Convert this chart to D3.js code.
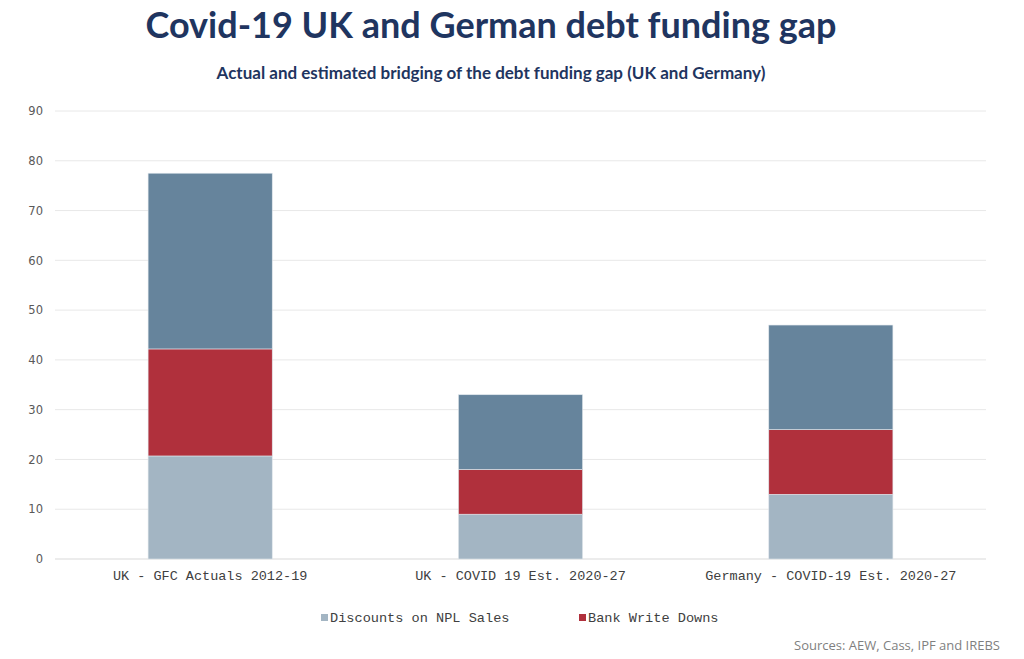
<!DOCTYPE html>
<html>
<head>
<meta charset="utf-8">
<script src="https://cdn.jsdelivr.net/npm/d3@7"></script>
<style>
  body { margin: 0; background: #fff; }
</style>
</head>
<body>
<div id="chart"></div>
<script>
// categories and stacked values
var categories = ["UK - GFC Actuals 2012-19", "UK - COVID 19 Est. 2020-27", "Germany - COVID-19 Est. 2020-27"];
var discounts = [20.7, 9, 13];
var writeDowns = [21.5, 9, 13];
var remainder = [35.3, 15, 21];
var yTicks = [0, 10, 20, 30, 40, 50, 60, 70, 80, 90];

var seriesNames = ["Discounts on NPL Sales", "Bank Write Downs", "Remaining Gap"];
var seriesColors = ["#a3b5c3", "#b0303c", "#66849c"];
var legendNames = ["Discounts on NPL Sales", "Bank Write Downs"];

var svgWidth = 1024;
var svgHeight = 659;
var margin = { top: 111, right: 38, bottom: 100, left: 55 };
var width = svgWidth - margin.left - margin.right;
var height = svgHeight - margin.top - margin.bottom;

var svg = d3.select("#chart").append("svg")
  .attr("width", svgWidth)
  .attr("height", svgHeight);

// titles
svg.append("text")
  .attr("x", 491).attr("y", 38)
  .attr("text-anchor", "middle")
  .attr("font-family", "Lato, 'Open Sans', sans-serif")
  .attr("font-weight", "bold")
  .attr("font-size", "36px")
  .attr("fill", "#1f3560")
  .text("Covid-19 UK and German debt funding gap");

svg.append("text")
  .attr("x", 491).attr("y", 79)
  .attr("text-anchor", "middle")
  .attr("font-family", "Lato, 'Open Sans', sans-serif")
  .attr("font-weight", "bold")
  .attr("font-size", "17px")
  .attr("fill", "#1f3560")
  .text("Actual and estimated bridging of the debt funding gap (UK and Germany)");

var chartGroup = svg.append("g")
  .attr("transform", `translate(${margin.left}, ${margin.top})`);

// build table for stacking
var table = categories.map(function(c, i) {
  return { cat: c, s0: discounts[i], s1: writeDowns[i], s2: remainder[i] };
});
var stacked = d3.stack().keys(["s0", "s1", "s2"])(table);

var xScale = d3.scaleBand()
  .domain(categories)
  .range([0, width])
  .paddingInner(0.6)
  .paddingOuter(0.3);

var yScale = d3.scaleLinear()
  .domain([0, 90])
  .range([height, 0]);

// gridlines
chartGroup.append("g")
  .selectAll("line")
  .data(yTicks)
  .enter()
  .append("line")
  .attr("x1", 0)
  .attr("x2", width)
  .attr("y1", d => yScale(d))
  .attr("y2", d => yScale(d))
  .attr("stroke", d => d === 0 ? "#d9d9d9" : "#e8e8e8")
  .attr("stroke-width", 1);

// y axis labels
var leftAxis = d3.axisLeft(yScale).tickValues(yTicks).tickSize(0).tickPadding(12);
var yAxis = chartGroup.append("g").call(leftAxis);
yAxis.select(".domain").remove();
yAxis.selectAll("text")
  .attr("font-family", "'DejaVu Sans', Verdana, sans-serif")
  .attr("font-size", "11.5px")
  .attr("fill", "#595959");

// bars
chartGroup.selectAll(".series")
  .data(stacked)
  .enter()
  .append("g")
  .attr("fill", (d, i) => seriesColors[i])
  .selectAll("rect")
  .data(d => d)
  .enter()
  .append("rect")
  .attr("x", d => xScale(d.data.cat))
  .attr("y", d => yScale(d[1]))
  .attr("width", xScale.bandwidth())
  .attr("height", d => yScale(d[0]) - yScale(d[1]))
  .attr("stroke", "#dfe6ec")
  .attr("stroke-width", 0.6);

// x axis labels
var bottomAxis = d3.axisBottom(xScale).tickSize(0).tickPadding(11);
var xAxis = chartGroup.append("g")
  .attr("transform", `translate(0, ${height})`)
  .call(bottomAxis);
xAxis.select(".domain").remove();
xAxis.selectAll("text")
  .attr("font-family", "'Liberation Mono', 'Courier New', monospace")
  .attr("font-size", "13.5px")
  .attr("fill", "#404040");

// legend
var legendX = [321, 579];
var legend = svg.append("g");
legendNames.forEach(function(name, i) {
  legend.append("rect")
    .attr("x", legendX[i]).attr("y", 614)
    .attr("width", 7).attr("height", 7)
    .attr("fill", seriesColors[i]);
  legend.append("text")
    .attr("x", legendX[i] + 9).attr("y", 622)
    .attr("font-family", "'Liberation Mono', 'Courier New', monospace")
    .attr("font-size", "13.6px")
    .attr("fill", "#404040")
    .text(name);
});

// source note
svg.append("text")
  .attr("x", 1000).attr("y", 650)
  .attr("text-anchor", "end")
  .attr("font-family", "'Open Sans', 'DejaVu Sans', sans-serif")
  .attr("font-size", "13px")
  .attr("fill", "#7f7f7f")
  .text("Sources: AEW, Cass, IPF and IREBS");
</script>
</body>
</html>
